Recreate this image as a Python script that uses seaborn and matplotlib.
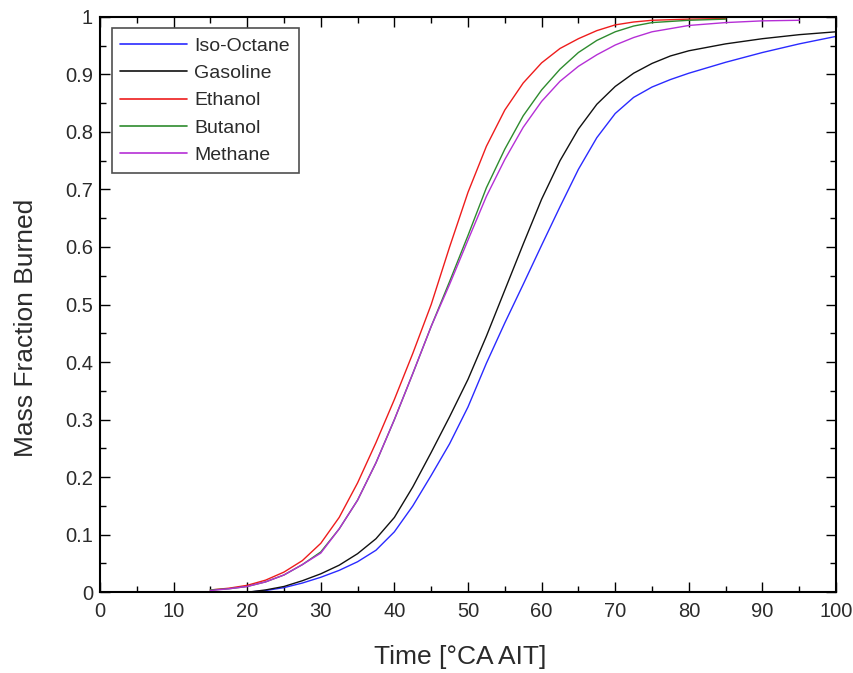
import numpy as np
import pandas as pd
import matplotlib
matplotlib.use("Agg")
import matplotlib.pyplot as plt
import seaborn as sns

# ---- data ----
fuels = ["Iso-Octane", "Gasoline", "Ethanol", "Butanol", "Methane"]
colors = ["#2a2aff", "#111111", "#ee1c1c", "#2e8b2e", "#b52fd6"]

iso_x = [20, 22.5, 25, 27.5, 30, 32.5, 35, 37.5, 40, 42.5, 45, 47.5, 50, 52.5, 55, 57.5,
         60, 62.5, 65, 67.5, 70, 72.5, 75, 77.5, 80, 85, 90, 95, 100]
iso_y = [0.0, 0.003, 0.008, 0.016, 0.026, 0.038, 0.053, 0.073, 0.105, 0.15, 0.203, 0.258,
         0.322, 0.398, 0.468, 0.535, 0.603, 0.67, 0.735, 0.79, 0.832, 0.86, 0.878, 0.891,
         0.902, 0.921, 0.938, 0.953, 0.966]

gas_x = [20, 22.5, 25, 27.5, 30, 32.5, 35, 37.5, 40, 42.5, 45, 47.5, 50, 52.5, 55, 57.5,
         60, 62.5, 65, 67.5, 70, 72.5, 75, 77.5, 80, 85, 90, 95, 100]
gas_y = [0.0, 0.004, 0.01, 0.02, 0.032, 0.047, 0.067, 0.093, 0.13, 0.183, 0.243, 0.305,
         0.37, 0.445, 0.525, 0.605, 0.683, 0.75, 0.805, 0.848, 0.879, 0.902, 0.919, 0.932,
         0.941, 0.953, 0.962, 0.969, 0.974]

eth_x = [15, 17.5, 20, 22.5, 25, 27.5, 30, 32.5, 35, 37.5, 40, 42.5, 45, 47.5, 50, 52.5,
         55, 57.5, 60, 62.5, 65, 67.5, 70, 72.5, 75, 80, 85]
eth_y = [0.004, 0.007, 0.012, 0.021, 0.035, 0.055, 0.085, 0.13, 0.19, 0.26, 0.335, 0.415,
         0.50, 0.60, 0.695, 0.775, 0.838, 0.885, 0.92, 0.945, 0.962, 0.976, 0.986, 0.991,
         0.994, 0.996, 0.997]

but_x = [15, 17.5, 20, 22.5, 25, 27.5, 30, 32.5, 35, 37.5, 40, 42.5, 45, 47.5, 50, 52.5,
         55, 57.5, 60, 62.5, 65, 67.5, 70, 72.5, 75, 80, 85]
but_y = [0.004, 0.006, 0.01, 0.018, 0.03, 0.048, 0.07, 0.11, 0.16, 0.225, 0.30, 0.38,
         0.462, 0.54, 0.62, 0.703, 0.77, 0.828, 0.873, 0.909, 0.938, 0.959, 0.974, 0.984,
         0.99, 0.994, 0.996]

met_x = [15, 17.5, 20, 22.5, 25, 27.5, 30, 32.5, 35, 37.5, 40, 42.5, 45, 47.5, 50, 52.5,
         55, 57.5, 60, 62.5, 65, 67.5, 70, 72.5, 75, 80, 85, 90, 95]
met_y = [0.003, 0.006, 0.01, 0.018, 0.03, 0.048, 0.068, 0.11, 0.16, 0.225, 0.30, 0.38,
         0.462, 0.535, 0.612, 0.688, 0.752, 0.808, 0.853, 0.888, 0.914, 0.934, 0.951, 0.964,
         0.974, 0.985, 0.99, 0.993, 0.994]

xs = [iso_x, gas_x, eth_x, but_x, met_x]
ys = [iso_y, gas_y, eth_y, but_y, met_y]

frames = [pd.DataFrame({"x": x, "y": y, "fuel": f}) for f, x, y in zip(fuels, xs, ys)]
df = pd.concat(frames, ignore_index=True)

# ---- styling ----
sns.set_style("ticks")
plt.rcParams["font.family"] = ["Liberation Sans", "DejaVu Sans"]
text_col = "#2b2b2b"

fig = plt.figure(figsize=(8.54, 6.73), dpi=100)
ax = fig.add_axes([0.117, 0.120, 0.862, 0.855])

sns.lineplot(data=df, x="x", y="y", hue="fuel", hue_order=fuels,
             palette=dict(zip(fuels, colors)), linewidth=1.0, ax=ax,
             sort=False, estimator=None)

ax.set_xlim(0, 100)
ax.set_ylim(0, 1)
ax.set_xticks(np.arange(0, 101, 10))
ax.set_yticks(np.arange(0, 1.01, 0.1))
ax.set_xticklabels([f"{v:g}" for v in np.arange(0, 101, 10)])
ax.set_yticklabels([f"{v:g}" for v in np.round(np.arange(0, 1.01, 0.1), 1)])
ax.set_xticks(np.arange(5, 100, 10), minor=True)
ax.set_yticks(np.arange(0.05, 1.0, 0.1), minor=True)
ax.tick_params(which="both", direction="in", top=True, right=True,
               color="black", labelcolor=text_col, labelsize=14.5)
ax.tick_params(axis="y", which="major", pad=5)
ax.tick_params(axis="x", which="major", pad=7)
ax.tick_params(which="major", length=7, width=1)
ax.tick_params(which="minor", length=4, width=1)
for s in ax.spines.values():
    s.set_linewidth(1.5)
    s.set_color("black")

ax.set_xlabel("Time [°CA AIT]", fontsize=19, color=text_col)
ax.set_ylabel("Mass Fraction Burned", fontsize=19, color=text_col)
ax.xaxis.set_label_coords(0.49, -0.092)
ax.yaxis.set_label_coords(-0.084, 0.46)

leg = ax.legend(title=None, loc="upper left", fontsize=14, frameon=True,
                fancybox=False, edgecolor="#222222", borderpad=0.45,
                handlelength=3.4, handletextpad=0.4, labelspacing=0.5,
                bbox_to_anchor=(0.016, 0.98), borderaxespad=0)
for t in leg.get_texts():
    t.set_color(text_col)
leg.get_frame().set_linewidth(1.2)
for h in leg.get_lines():
    h.set_linewidth(1.2)

fig.savefig("out.png", dpi=100)
